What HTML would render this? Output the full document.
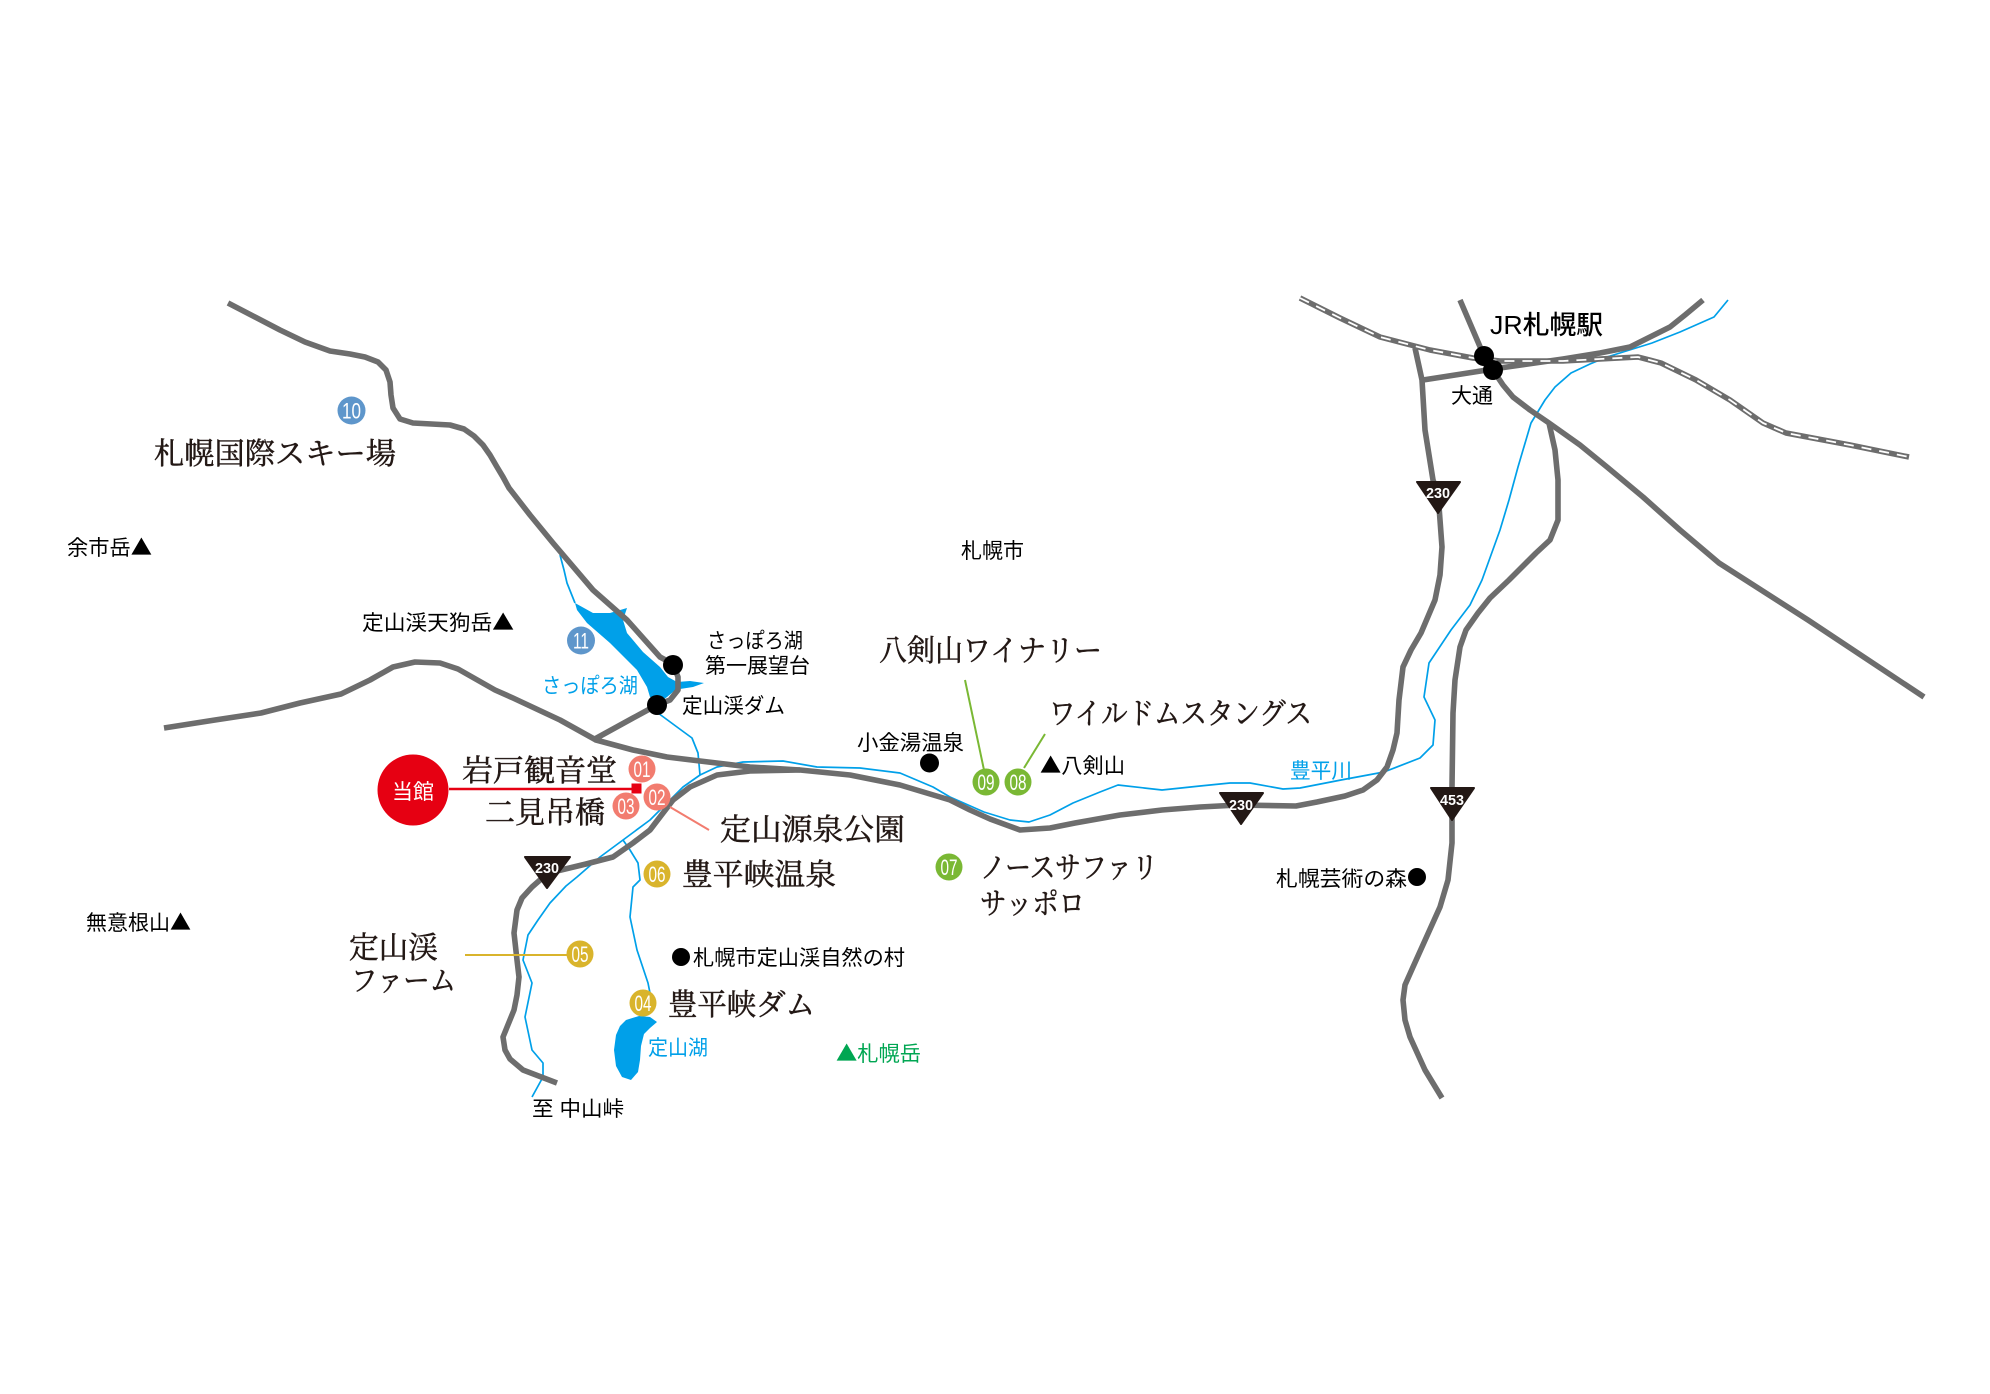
<!DOCTYPE html>
<html lang="ja">
<head>
<meta charset="utf-8">
<style>
html,body{margin:0;padding:0;background:#fff;}
svg{display:block;}
.sans{font-family:"Liberation Sans","Noto Sans CJK JP",sans-serif;}
.serif{font-family:"Liberation Serif","Noto Serif CJK SC",serif;}
.tri{font-family:"Noto Sans CJK JP",sans-serif;}
.road{fill:none;stroke:#6d6d6d;stroke-width:5.6;stroke-linejoin:round;stroke-linecap:butt;}
.river{fill:none;stroke:#00a0e9;stroke-width:1.7;stroke-linejoin:round;}
.num{font-family:"Liberation Sans",sans-serif;font-size:22px;fill:#fff;text-anchor:middle;}
.sign{fill:#231815;stroke:#231815;stroke-width:2;stroke-linejoin:round;}
.signt{font-family:"Liberation Sans",sans-serif;font-size:15px;font-weight:bold;fill:#fff;text-anchor:middle;}
</style>
</head>
<body>
<svg width="1990" height="1394" viewBox="0 0 1990 1394" xmlns="http://www.w3.org/2000/svg">
<rect width="1990" height="1394" fill="#fff"/>

<!-- Lakes -->
<path fill="#00a0e9" d="M575,603 L593,613 L610,613 L627,608 L623,620 L627,633 L643,652 L660,667 L668,677 L677,682 L690,681 L704,683 L693,687 L680,689 L673,692 L667,697 L660,702 L650,697 L647,687 L637,670 L610,643 L587,623 L577,610 Z"/>
<path fill="#00a0e9" d="M626,1020 L639,1016 L650,1017 L657,1022 L650,1028 L644,1034 L641,1046 L640,1060 L638,1072 L631,1080 L622,1077 L616,1066 L614,1050 L616,1035 L620,1026 Z"/>

<!-- Rivers -->
<path class="river" d="M560,555 L564,570 L567,583 L575,603"/>
<path class="river" d="M658,713 L677,727 L692,738 L698,753 L700,775"/>
<path class="river" d="M1728,300 L1714,317 L1680,332 L1652,343 L1607,357 L1590,364 L1571,373 L1555,387 L1545,400 L1531,423 L1518,467 L1509,500 L1500,530 L1482,580 L1470,605 L1451,630 L1429,663 L1424,697 L1435,720 L1433,745 L1420,758 L1384,772 L1341,780 L1300,788 L1283,789 L1250,783 L1230,783 L1200,786 L1162,790 L1118,785 L1100,792 L1073,803 L1050,815 L1029,822 L1010,820 L984,812 L950,797 L933,787 L900,773 L860,768 L817,767 L783,761 L743,762 L717,767 L700,775 L683,787 L667,803 L650,820 L623,840 L600,857 L577,877 L566,886 L550,903 L538,920 L528,935 L523,960 L532,983 L525,1017 L532,1050 L543,1063 L543,1077 L532,1097"/>
<path class="river" d="M623,840 L630,850 L638,863 L640,880 L633,887 L630,917 L637,950 L648,983 L650,993"/>

<!-- Roads -->
<path class="road" d="M228,303 L255,317 L280,330 L305,342 L330,351 L350,354 L365,357 L378,362 L386,370 L390,382 L391,395 L393,408 L400,419 L413,423 L450,425 L464,429 L474,436 L483,445 L490,455 L497,467 L503,477 L509,488 L530,515 L553,543 L593,590 L627,620 L660,657 L673,664 L678,677 L678,690 L670,700 L657,705 L633,718 L593,740"/>
<path class="road" d="M164,728 L215,720 L261,713 L300,703 L341,694 L370,680 L393,667 L415,662 L440,663 L458,669 L495,690 L513,698 L560,720 L596,740 L633,750 L667,757 L700,761 L750,767 L800,770 L850,775 L900,785 L950,800 L970,810 L990,819 L1020,830 L1050,828 L1075,823 L1120,815 L1162,810 L1200,807 L1238,805 L1296,806 L1317,802 L1345,796 L1363,790 L1377,780 L1387,767 L1393,750 L1397,733 L1399,700 L1403,667 L1411,650 L1421,633 L1435,600 L1440,575 L1442,547 L1440,520 L1438,493 L1433,480 L1425,430 L1422,380 L1415,348"/>
<path class="road" d="M800,770 L750,771 L717,775 L690,787 L673,800 L663,813 L650,830 L633,843 L613,857 L586,864 L557,871 L540,880 L532,887 L522,898 L517,910 L514,933 L517,960 L519,977 L517,995 L514,1010 L503,1037 L505,1050 L510,1059 L523,1070 L557,1083"/>
<path class="road" d="M1460,300 L1484,356"/>
<path class="road" d="M1703,300 L1685,315 L1670,327 L1630,347 L1600,353 L1563,359 L1500,368 L1423,380"/>
<path class="road" d="M1493,370 L1503,385 L1513,397 L1530,410 L1549,423 L1580,445 L1607,467 L1643,497 L1680,530 L1719,563 L1808,620 L1924,697"/>
<path class="road" d="M1549,423 L1555,450 L1558,480 L1558,520 L1550,540 L1536,553 L1509,580 L1490,598 L1478,613 L1466,630 L1460,647 L1455,680 L1453,713 L1452,787 L1452,843 L1448,880 L1440,907 L1413,967 L1405,985 L1403,1000 L1405,1020 L1410,1037 L1425,1070 L1442,1098"/>

<!-- Rail -->
<path fill="none" stroke="#6d6d6d" stroke-width="5.5" stroke-linejoin="round" d="M1300,298 L1340,318 L1380,337 L1430,350 L1473,358 L1500,361 L1563,361 L1600,359 L1638,357 L1661,363 L1696,380 L1730,400 L1763,423 L1786,433 L1850,445 L1909,457"/>
<path fill="none" stroke="#fff" stroke-width="1.8" stroke-dasharray="10 8" stroke-linejoin="round" d="M1300,298 L1340,318 L1380,337 L1430,350 L1473,358 L1500,361 L1563,361 L1600,359 L1638,357 L1661,363 L1696,380 L1730,400 L1763,423 L1786,433 L1850,445 L1909,457"/>

<!-- Leader lines -->
<line x1="449" y1="789" x2="634" y2="789" stroke="#e60012" stroke-width="2.5"/>
<rect x="631.5" y="783.5" width="10" height="10" fill="#e60012"/>
<line x1="670" y1="807" x2="709" y2="830" stroke="#f27c6f" stroke-width="2"/>
<line x1="465" y1="955" x2="570" y2="955" stroke="#d9b42c" stroke-width="2"/>
<line x1="965" y1="680" x2="984" y2="770" stroke="#7ab834" stroke-width="2"/>
<line x1="1045" y1="734" x2="1024" y2="768" stroke="#7ab834" stroke-width="2"/>

<!-- Road signs -->
<polygon class="sign" points="525,857 570,857 547,888"/>
<text class="signt" x="547" y="873" textLength="24" lengthAdjust="spacingAndGlyphs">230</text>
<polygon class="sign" points="1220,793 1263,793 1241,824"/>
<text class="signt" x="1241" y="810" textLength="24" lengthAdjust="spacingAndGlyphs">230</text>
<polygon class="sign" points="1417,482 1460,482 1438,513"/>
<text class="signt" x="1438" y="498" textLength="24" lengthAdjust="spacingAndGlyphs">230</text>
<polygon class="sign" points="1431,788 1474,788 1452,820"/>
<text class="signt" x="1452" y="805" textLength="24" lengthAdjust="spacingAndGlyphs">453</text>

<!-- Black dots -->
<circle cx="673" cy="665" r="10" fill="#000"/>
<circle cx="657" cy="705" r="10" fill="#000"/>
<circle cx="1484" cy="356" r="10" fill="#000"/>
<circle cx="1493" cy="370" r="10" fill="#000"/>
<circle cx="929.5" cy="763" r="9.5" fill="#000"/>
<circle cx="1417" cy="877" r="9" fill="#000"/>
<circle cx="681" cy="957" r="9" fill="#000"/>

<!-- 当館 -->
<circle cx="413" cy="790" r="35.5" fill="#e60012"/>
<text class="sans" x="413" y="799" font-size="21" fill="#fff" text-anchor="middle">当館</text>

<!-- Numbered circles -->
<g>
<circle cx="642" cy="769" r="13.5" fill="#f27c6f"/><text class="num" x="642" y="777" textLength="17" lengthAdjust="spacingAndGlyphs">01</text>
<circle cx="657" cy="797" r="13.5" fill="#f27c6f"/><text class="num" x="657" y="805" textLength="17" lengthAdjust="spacingAndGlyphs">02</text>
<circle cx="626" cy="806" r="13.5" fill="#f27c6f"/><text class="num" x="626" y="814" textLength="17" lengthAdjust="spacingAndGlyphs">03</text>
<circle cx="643" cy="1003" r="13.5" fill="#d9b42c"/><text class="num" x="643" y="1011" textLength="17" lengthAdjust="spacingAndGlyphs">04</text>
<circle cx="580" cy="954" r="13.5" fill="#d9b42c"/><text class="num" x="580" y="962" textLength="17" lengthAdjust="spacingAndGlyphs">05</text>
<circle cx="657" cy="874" r="13.5" fill="#d9b42c"/><text class="num" x="657" y="882" textLength="17" lengthAdjust="spacingAndGlyphs">06</text>
<circle cx="949" cy="867" r="13.5" fill="#7ab834"/><text class="num" x="949" y="875" textLength="17" lengthAdjust="spacingAndGlyphs">07</text>
<circle cx="1018" cy="782" r="13.5" fill="#7ab834"/><text class="num" x="1018" y="790" textLength="17" lengthAdjust="spacingAndGlyphs">08</text>
<circle cx="986" cy="782" r="13.5" fill="#7ab834"/><text class="num" x="986" y="790" textLength="17" lengthAdjust="spacingAndGlyphs">09</text>
<circle cx="351.5" cy="410.5" r="14" fill="#5e96cb"/><text class="num" x="351.5" y="418.5" textLength="19" lengthAdjust="spacingAndGlyphs">10</text>
<circle cx="581" cy="640.5" r="14" fill="#5e96cb"/><text class="num" x="581" y="648.5" textLength="16" lengthAdjust="spacingAndGlyphs">11</text>
</g>

<!-- Small sans labels -->
<g class="sans" font-size="21" fill="#000">
<text x="67" y="555" textLength="85" lengthAdjust="spacingAndGlyphs">余市岳<tspan class="tri">▲</tspan></text>
<text x="362" y="630" textLength="152" lengthAdjust="spacingAndGlyphs">定山渓天狗岳<tspan class="tri">▲</tspan></text>
<text x="86" y="930" textLength="105" lengthAdjust="spacingAndGlyphs">無意根山<tspan class="tri">▲</tspan></text>
<text x="961" y="558" textLength="63" lengthAdjust="spacingAndGlyphs">札幌市</text>
<text x="707" y="648" textLength="96" lengthAdjust="spacingAndGlyphs">さっぽろ湖</text>
<text x="705" y="673" textLength="105" lengthAdjust="spacingAndGlyphs">第一展望台</text>
<text x="682" y="713" textLength="103" lengthAdjust="spacingAndGlyphs">定山渓ダム</text>
<text x="857" y="750" textLength="107" lengthAdjust="spacingAndGlyphs">小金湯温泉</text>
<text x="1040" y="773" textLength="85" lengthAdjust="spacingAndGlyphs"><tspan class="tri">▲</tspan>八剣山</text>
<text x="693" y="965" textLength="212" lengthAdjust="spacingAndGlyphs">札幌市定山渓自然の村</text>
<text x="1276" y="886" textLength="131" lengthAdjust="spacingAndGlyphs">札幌芸術の森</text>
<text x="532" y="1116" textLength="92" lengthAdjust="spacingAndGlyphs">至 中山峠</text>
<text x="1451" y="403" textLength="42" lengthAdjust="spacingAndGlyphs">大通</text>
<text x="1490" y="334" font-size="26" font-weight="500" textLength="113" lengthAdjust="spacingAndGlyphs">JR札幌駅</text>
</g>
<g class="sans" font-size="21" fill="#00a0e9">
<text x="542" y="693" textLength="96" lengthAdjust="spacingAndGlyphs">さっぽろ湖</text>
<text x="1290" y="778" textLength="62" lengthAdjust="spacingAndGlyphs">豊平川</text>
<text x="648" y="1055" textLength="60" lengthAdjust="spacingAndGlyphs">定山湖</text>
</g>
<text class="sans" x="836" y="1061" font-size="21" fill="#00a652" textLength="85" lengthAdjust="spacingAndGlyphs"><tspan class="tri">▲</tspan>札幌岳</text>

<!-- Big serif labels -->
<g class="serif" font-size="30" fill="#231815" stroke="#231815" stroke-width="0.5">
<text x="154" y="464" textLength="242" lengthAdjust="spacingAndGlyphs">札幌国際スキー場</text>
<text x="462" y="781" textLength="155" lengthAdjust="spacingAndGlyphs">岩戸観音堂</text>
<text x="485" y="823" textLength="120" lengthAdjust="spacingAndGlyphs">二見吊橋</text>
<text x="720" y="840" textLength="185" lengthAdjust="spacingAndGlyphs">定山源泉公園</text>
<text x="682" y="885" textLength="154" lengthAdjust="spacingAndGlyphs">豊平峡温泉</text>
<text x="879" y="661" textLength="223" lengthAdjust="spacingAndGlyphs">八剣山ワイナリー</text>
<text x="1049" y="724" textLength="263" lengthAdjust="spacingAndGlyphs">ワイルドムスタングス</text>
<text x="980" y="878" textLength="178" lengthAdjust="spacingAndGlyphs">ノースサファリ</text>
<text x="980" y="914" textLength="105" lengthAdjust="spacingAndGlyphs">サッポロ</text>
<text x="349" y="958" textLength="89" lengthAdjust="spacingAndGlyphs">定山渓</text>
<text x="351" y="991" textLength="105" lengthAdjust="spacingAndGlyphs">ファーム</text>
<text x="668" y="1015" textLength="147" lengthAdjust="spacingAndGlyphs">豊平峡ダム</text>
</g>
</svg>
</body>
</html>
